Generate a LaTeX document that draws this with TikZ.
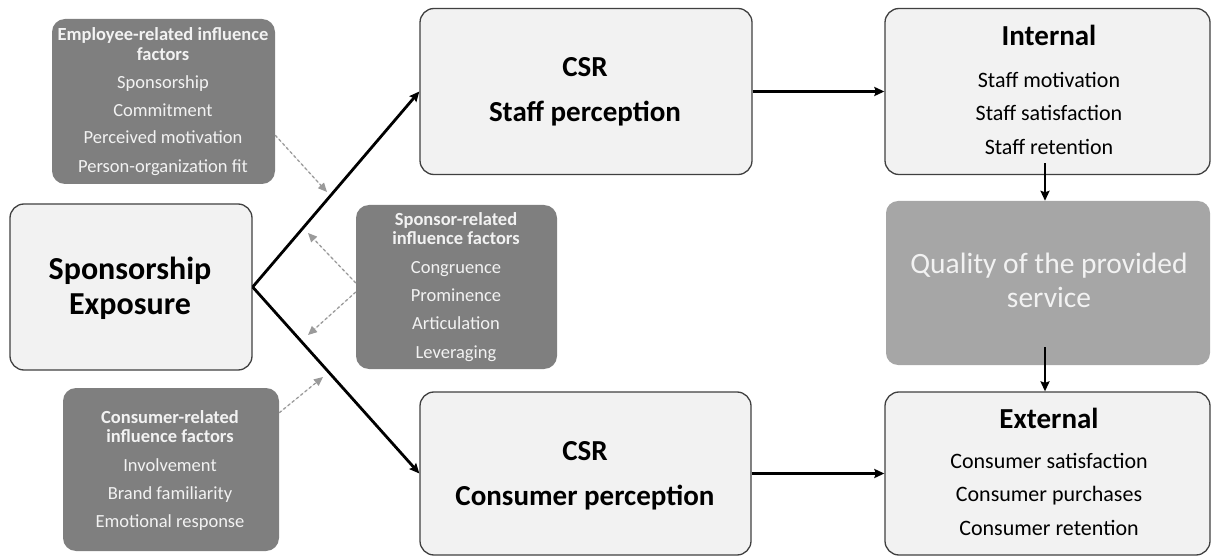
\documentclass[tikz,border=0pt]{standalone}
\usepackage{fontspec}
\setmainfont{Carlito}
\usetikzlibrary{arrows.meta,calc}
\definecolor{boxfill}{HTML}{F2F2F2}
\definecolor{boxline}{HTML}{404040}
\definecolor{darkfill}{HTML}{7F7F7F}
\definecolor{qualfill}{HTML}{A6A6A6}
\definecolor{lighttext}{HTML}{F2F2F2}
\definecolor{dashcol}{HTML}{9A9A9A}
\tikzset{
  lightbox/.style={draw=boxline, line width=1.3pt, fill=boxfill, rounded corners=14pt, inner sep=0pt},
  darkbox/.style={fill=darkfill, rounded corners=13pt, inner sep=0pt},
  qualbox/.style={fill=qualfill, rounded corners=12pt, inner sep=0pt},
  txt/.style={anchor=base, inner sep=0pt},
  smallhead/.style={txt, font=\fontsize{18.5}{20}\selectfont\bfseries, text=lighttext},
  smallitem/.style={txt, font=\fontsize{18.5}{20}\selectfont, text=lighttext},
  bighead/.style={txt, font=\fontsize{29}{33}\selectfont\bfseries},
  item/.style={txt, font=\fontsize{22}{26}\selectfont},
  mainarrow/.style={line width=2.8pt, -{Stealth[length=10pt,width=9pt,inset=1.5pt]}},
  dasharrow/.style={draw=dashcol, line width=1.3pt, dash pattern=on 3pt off 2.5pt, -{Triangle[length=9pt,width=8pt]}, fill=dashcol}
}
\begin{document}
\begin{tikzpicture}[x=1pt,y=-1pt]
\useasboundingbox (0,0) rectangle (1211,556);
% boxes
\node[darkbox, minimum width=223pt, minimum height=165pt] (emp) at (163.5,101.5) {};
\node[lightbox, minimum width=242pt, minimum height=166pt] (se) at (131,287) {};
\node[darkbox, minimum width=201pt, minimum height=164pt] (sp) at (456.5,287) {};
\node[darkbox, minimum width=216pt, minimum height=163pt] (con) at (171,469.5) {};
\node[lightbox, minimum width=332pt, minimum height=166pt] (csr1) at (586,91.5) {};
\node[lightbox, minimum width=331pt, minimum height=163pt] (csr2) at (585.5,473.5) {};
\node[lightbox, minimum width=325pt, minimum height=166pt] (int) at (1047.5,91.5) {};
\node[qualbox, minimum width=324pt, minimum height=164pt] (q) at (1048,283) {};
\node[lightbox, minimum width=325pt, minimum height=163pt] (ext) at (1047.5,473.5) {};
% employee text
\node[smallhead] (e1) at (163,40.4) {Employee-related influence};
\node[smallhead] (e2) at (163,60.4) {factors};
\node[smallitem] (e3) at (163,88.4) {Sponsorship};
\node[smallitem] (e4) at (163,116.4) {Commitment};
\node[smallitem] (e5) at (163,144) {Perceived motivation};
\node[smallitem] (e6) at (163,172.4) {Person-organization fit};
% sponsor text
\node[smallhead] (s1) at (456,225.4) {Sponsor-related};
\node[smallhead] (s2) at (456,244.4) {influence factors};
\node[smallitem] (s3) at (456,273.4) {Congruence};
\node[smallitem] (s4) at (456,301.4) {Prominence};
\node[smallitem] (s5) at (456,329.4) {Articulation};
\node[smallitem] (s6) at (456,358.4) {Leveraging};
% consumer text
\node[smallhead] (c1) at (170,423.4) {Consumer-related};
\node[smallhead] (c2) at (170,442.4) {influence factors};
\node[smallitem] (c3) at (170,471.4) {Involvement};
\node[smallitem] (c4) at (170,499.4) {Brand familiarity};
\node[smallitem] (c5) at (170,527.4) {Emotional response};
% sponsorship exposure
\node[txt, font=\fontsize{32}{35}\selectfont\bfseries] (x1) at (130,279.6) {Sponsorship};
\node[txt, font=\fontsize{32}{35}\selectfont\bfseries] (x2) at (130,314.6) {Exposure};
% CSR boxes
\node[bighead] (a1) at (585,76.7) {CSR};
\node[bighead] (a2) at (585,121.7) {Staff perception};
\node[bighead] (b1) at (585,460.7) {CSR};
\node[bighead] (b2) at (585,505.7) {Consumer perception};
% internal
\node[bighead] (i1) at (1049,45.7) {Internal};
\node[item] (i2) at (1049,87.6) {Staff motivation};
\node[item] (i3) at (1049,121) {Staff satisfaction};
\node[item] (i4) at (1049,154.6) {Staff retention};
% quality
\node[txt, font=\fontsize{29.5}{33}\selectfont, text=lighttext] (q1) at (1049,273.7) {Quality of the provided};
\node[txt, font=\fontsize{29.5}{33}\selectfont, text=lighttext] (q2) at (1049,307.7) {service};
% external
\node[bighead] (x3) at (1049,428.7) {External};
\node[item] (x4) at (1049,468.2) {Consumer satisfaction};
\node[item] (x5) at (1049,501.6) {Consumer purchases};
\node[item] (x6) at (1049,535.6) {Consumer retention};
% main arrows
\draw[mainarrow] (se.east) -- (csr1.west);
\draw[mainarrow] (se.east) -- (csr2.west);
\draw[mainarrow] (csr1.east) -- (int.west);
\draw[mainarrow] (csr2.east) -- (ext.west);
\coordinate (iq1) at ($(int.south)+(-2.5pt,12pt)$);
\coordinate (iq2) at ($(q.north)+(-3pt,0pt)$);
\coordinate (qe1) at ($(q.south)+(-3pt,18pt)$);
\coordinate (qe2) at ($(ext.north)+(-2.5pt,0pt)$);
\draw[mainarrow] (iq1) -- (iq2);
\draw[mainarrow] (qe1) -- (qe2);
% dashed influence arrows
\coordinate (ed1) at ($(emp.south east)+(0pt,49pt)$);
\coordinate (ed2) at (327,192);
\coordinate (sd1) at ($(sp.west)+(0pt,4pt)$);
\coordinate (sd2) at (308,233);
\coordinate (sd3) at ($(sp.west)+(0pt,-5pt)$);
\coordinate (sd4) at (308,335);
\coordinate (cd1) at ($(con.north east)+(0pt,-25pt)$);
\coordinate (cd2) at (323,377);
\draw[dasharrow] (ed1) -- (ed2);
\draw[dasharrow] (sd1) -- (sd2);
\draw[dasharrow] (sd3) -- (sd4);
\draw[dasharrow] (cd1) -- (cd2);
\end{tikzpicture}
\end{document}
